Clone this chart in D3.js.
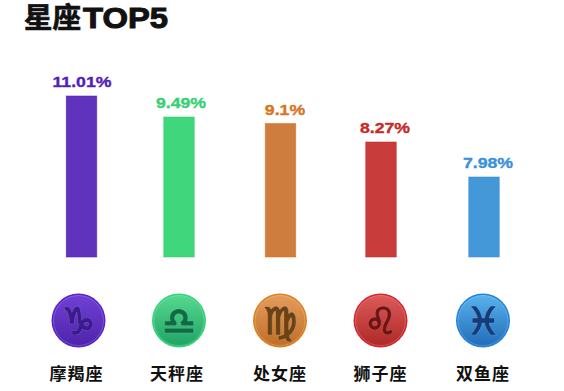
<!DOCTYPE html>
<html><head><meta charset="utf-8">
<script src="https://cdnjs.cloudflare.com/ajax/libs/d3/7.8.5/d3.min.js"></script>
<style>html,body{margin:0;padding:0;background:#fff}svg{display:block}</style>
</head><body><div id="c"></div>
<script>
const categories = ["摩羯座","天秤座","处女座","狮子座","双鱼座"];
const values = [11.01, 9.49, 9.1, 8.27, 7.98];
const valueLabels = ["11.01%","9.49%","9.1%","8.27%","7.98%"];
const symbols = ["♑","♎","♍","♌","♓"];
const barColors = ["#6033bc","#3fd67c","#cf7d3f","#c93c3c","#4498d8"];
const edgeColors = ["#5220b8","#38d074","#d9741f","#c92828","#3a90dc"];
const rimColors = ["#5a20cc","#2ed678","#e07f1c","#d8242a","#1f82dc"];
const glyphColors = ["#3a1a8c","#0f6b44","#6b4214","#6e1512","#143c78"];
const lightColors = ["#7040d4","#56d890","#e49c5c","#dc5a5a","#58b2ec"];
const darkColors = ["#4e24aa","#20a464","#c06e28","#b02828","#226cba"];
const title = ["星座","TOP5"];

const W = 564, H = 391;
const svg = d3.select("#c").append("svg").attr("width",W).attr("height",H);
const x = d3.scalePoint().domain(categories).range([81,483]);
// bars in the reference are not proportional to value; piecewise scale reproduces the drawing
const y = d3.scaleLinear().domain([7.98,8.27,9.1,9.49,11.01]).range([177,142,123.5,117,96]);
const xNudge = [0.5,-2.5,-1.5,-1.5,1];
const cx = (d,i)=>x(categories[i]) + xNudge[i];
const base = 257, bw = 30.5;

const defs = svg.append("defs");
categories.forEach((c,i)=>{
  const g = defs.append("linearGradient").attr("id","g"+i).attr("x1",0).attr("y1",0).attr("x2",0).attr("y2",1);
  g.append("stop").attr("offset",0).attr("stop-color",lightColors[i]);
  g.append("stop").attr("offset",1).attr("stop-color",darkColors[i]);
});

svg.selectAll("rect.bar").data(values).join("rect").attr("class","bar")
  .attr("x",(d,i)=>cx(d,i)-bw/2).attr("width",bw)
  .attr("y",d=>y(d)).attr("height",d=>base-y(d))
  .attr("fill",(d,i)=>barColors[i])
  .attr("stroke",(d,i)=>edgeColors[i]).attr("stroke-opacity",.7).attr("stroke-width",.8);

const vx = [82,181,285,385,488];
svg.selectAll("text.val").data(values).join("text").attr("class","val")
  .attr("transform",(d,i)=>`translate(${vx[i]},${y(d)-9}) scale(1.18,1)`)
  .attr("text-anchor","middle")
  .attr("font-family","'Liberation Sans',sans-serif").attr("font-weight",700).attr("font-size",15)
  .attr("fill",(d,i)=>edgeColors[i]).attr("stroke",(d,i)=>edgeColors[i]).attr("stroke-width",.35)
  .text((d,i)=>valueLabels[i]);

const icx = [78.5,179,280,380.5,483], icy = 320.5;
const ic = svg.selectAll("g.ic").data(categories).join("g").attr("class","ic")
  .attr("transform",(d,i)=>`translate(${icx[i]},${icy})`);
ic.append("circle").attr("r",27).attr("fill",(d,i)=>rimColors[i]);
ic.append("circle").attr("r",25.5).attr("fill",(d,i)=>`url(#g${i})`);
ic.append("circle").attr("r",25).attr("fill","none").attr("stroke","#fff").attr("stroke-opacity",.18).attr("stroke-width",1);
ic.append("text").attr("text-anchor","middle").attr("y",13).attr("dy",.8)
  .attr("font-family","'DejaVu Sans'").attr("font-weight",700).attr("font-size",37)
  .attr("fill","none").attr("stroke","#fff").attr("stroke-opacity",.25).attr("stroke-width",2.2)
  .text((d,i)=>symbols[i]);
ic.append("text").attr("text-anchor","middle").attr("y",13)
  .attr("font-family","'DejaVu Sans'").attr("font-weight",700).attr("font-size",37)
  .attr("fill",(d,i)=>glyphColors[i]).attr("stroke",(d,i)=>glyphColors[i]).attr("stroke-width",1.6)
  .text((d,i)=>symbols[i]);

svg.selectAll("text.cat").data(categories).join("text").attr("class","cat")
  .attr("x",(d,i)=>icx[i]-2+[0,0,2,2,2][i])
  .attr("y",380).attr("text-anchor","middle")
  .attr("font-family","'Noto Sans CJK SC'").attr("font-weight",700).attr("font-size",17)
  .attr("letter-spacing",1).attr("fill","#111").text(d=>d);

svg.append("text").attr("x",24).attr("y",28)
  .attr("font-family","'Liberation Sans','Noto Sans CJK SC'").attr("font-weight",700).attr("font-size",28.5)
  .attr("fill","#111").attr("stroke","#111").attr("stroke-width",.7).text(title[0]);
svg.append("text").attr("transform","translate(83,27.5) scale(1.13,1)")
  .attr("font-family","'Liberation Sans'").attr("font-weight",700).attr("font-size",29)
  .attr("fill","#111").attr("stroke","#111").attr("stroke-width",1).text(title[1]);
</script></body></html>
